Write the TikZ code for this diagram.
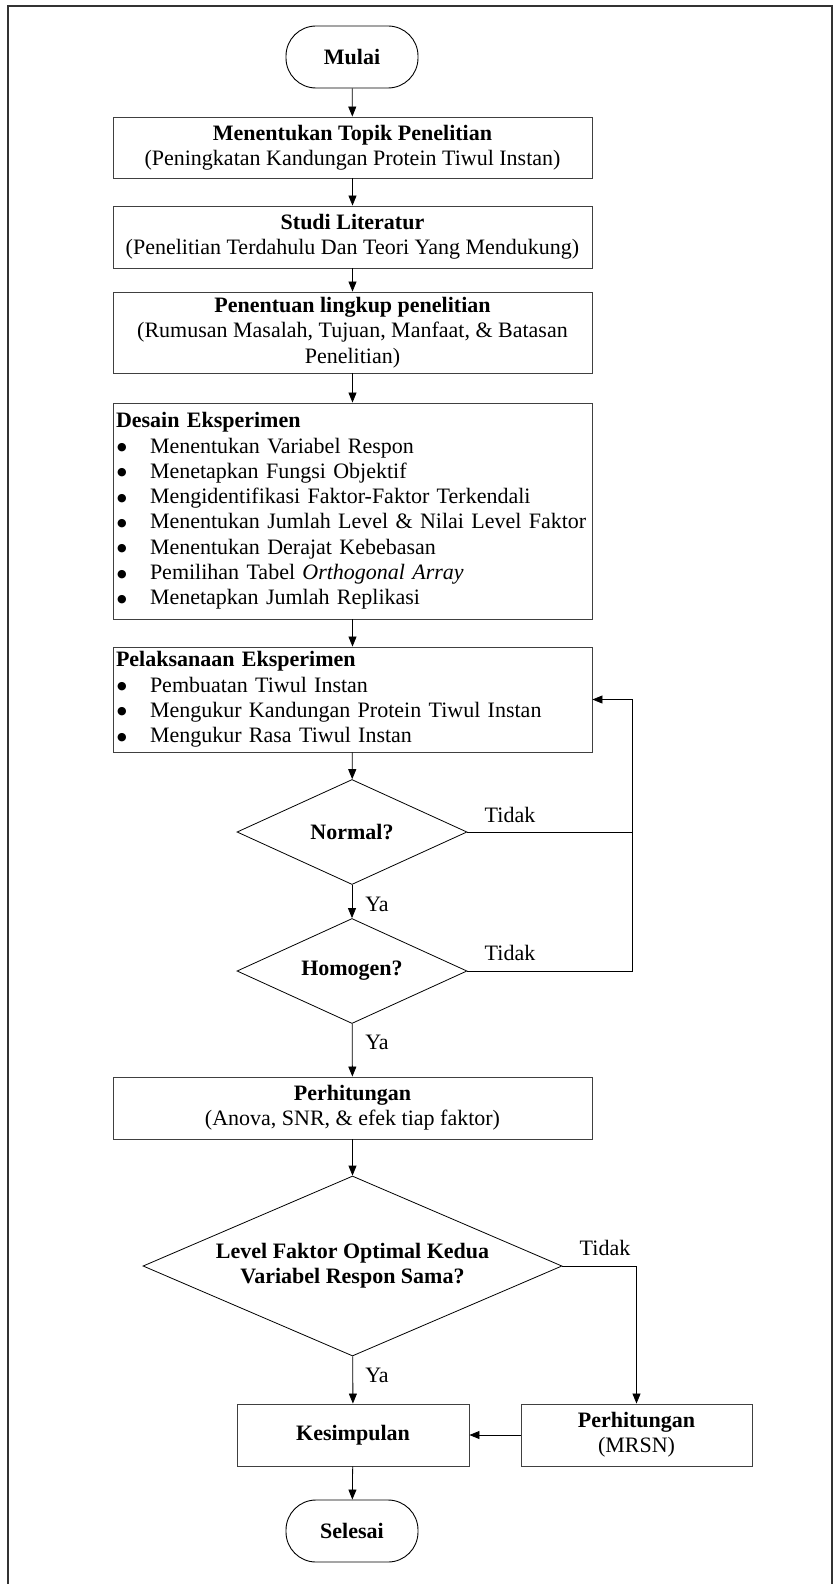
\documentclass[tikz,border=0pt]{standalone}
\usepackage{fontspec}
\setmainfont{Liberation Serif}
\newfontfamily\bulfont{DejaVu Sans}
\usetikzlibrary{shapes.geometric,arrows.meta}
\newcommand\flitem[1]{\makebox[34pt][l]{\kern1pt\raisebox{2.5pt}{\bulfont\fontsize{11}{11}\selectfont ●}}#1}
\begin{document}
\begin{tikzpicture}[x=1pt,y=-1pt,
  every node/.style={font=\fontsize{22}{25.3}\selectfont},
  box/.style={draw=black!75, line width=0.9pt, inner xsep=3pt, inner ysep=0pt, minimum width=479pt, align=center},
  lbox/.style={box, text width=473pt, align=left},
  term/.style={draw=black, line width=0.9pt, rounded corners=30pt, minimum width=132pt, minimum height=62pt, inner sep=0pt},
  dia/.style={draw=black, diamond, line width=0.8pt, inner sep=0pt, align=center},
  arr/.style={-{Triangle[length=10pt,width=8pt]}, line width=0.8pt},
  ln/.style={line width=0.8pt},
  lab/.style={inner sep=0pt}
]
\useasboundingbox (0,0) rectangle (835,1584);
\draw[black!80, line width=1.6pt] (8,1590) -- (8,6) -- (832,6) -- (832,1590);

\node[term] (start) at (352,57) {\textbf{Mulai}};
\node[box, minimum height=61pt] (b1) at (352.5,147.5) {\textbf{Menentukan Topik Penelitian}\\(Peningkatan Kandungan Protein Tiwul Instan)};
\node[box, minimum height=62pt] (b2) at (352.5,237) {\textbf{Studi Literatur}\\(Penelitian Terdahulu Dan Teori Yang Mendukung)};
\node[box, minimum height=81pt] (b3) at (352.5,332.5) {\textbf{Penentuan lingkup penelitian}\\(Rumusan Masalah, Tujuan, Manfaat, \& Batasan\\Penelitian)};
\node[lbox, minimum height=216pt] (b4) at (352.5,511) {\textbf{Desain Eksperimen}\\
\flitem{Menentukan Variabel Respon}\\
\flitem{Menetapkan Fungsi Objektif}\\
\flitem{Mengidentifikasi Faktor-Faktor Terkendali}\\
\flitem{Menentukan Jumlah Level \& Nilai Level Faktor}\\
\flitem{Menentukan Derajat Kebebasan}\\
\flitem{Pemilihan Tabel \textit{Orthogonal Array}}\\
\flitem{Menetapkan Jumlah Replikasi}};
\node[lbox, minimum height=105pt] (b5) at (352.5,699.5) {\textbf{Pelaksanaan Eksperimen}\\
\flitem{Pembuatan Tiwul Instan}\\
\flitem{Mengukur Kandungan Protein Tiwul Instan}\\
\flitem{Mengukur Rasa Tiwul Instan}};
\node[dia, aspect=2.19, minimum width=230pt, minimum height=105pt] (d1) at (352,832) {\textbf{Normal?}};
\node[dia, aspect=2.19, minimum width=230pt, minimum height=105pt] (d2) at (352,971) {\textbf{Homogen?}};
\node[box, minimum height=62pt] (b6) at (352.5,1108) {\textbf{Perhitungan}\\(Anova, SNR, \& efek tiap faktor)};
\node[dia, aspect=2.33, minimum width=419pt, minimum height=180pt] (d3) at (352.5,1266) {\textbf{Level Faktor Optimal Kedua}\\\textbf{Variabel Respon Sama?}};
\node[box, minimum width=232pt, minimum height=62pt] (kes) at (353,1435) {\textbf{Kesimpulan}};
\node[box, minimum width=231pt, minimum height=62pt] (mrsn) at (636.5,1435) {\textbf{Perhitungan}\\(MRSN)};
\node[term] (end) at (352,1531) {\textbf{Selesai}};

\coordinate (fb) at (632,971);

\draw[arr] (start) -- (b1);
\draw[arr] (b1) -- (b2);
\draw[arr] (b2) -- (b3);
\draw[arr] (b3) -- (b4);
\draw[arr] (b4) -- (b5);
\draw[arr] (b5) -- (d1);
\draw[arr] (d1) -- (d2);
\draw[arr] (d2) -- (b6);
\draw[arr] (b6) -- (d3);
\draw[arr] (d3) -- (kes);
\draw[arr] (kes) -- (end);
\draw[ln] (d1.east) -- (d1.east -| fb);
\draw[arr] (d2.east) -- (fb) |- (b5.east);
\draw[arr] (d3.east) -| (mrsn.north);
\draw[arr] (mrsn) -- (kes);

\node[lab] (t1) at (510,815) {Tidak};
\node[lab] (t2) at (510,953) {Tidak};
\node[lab] (t3) at (605,1248) {Tidak};
\node[lab] (y1) at (377,904) {Ya};
\node[lab] (y2) at (377,1042) {Ya};
\node[lab] (y3) at (377,1375) {Ya};
\end{tikzpicture}
\end{document}
